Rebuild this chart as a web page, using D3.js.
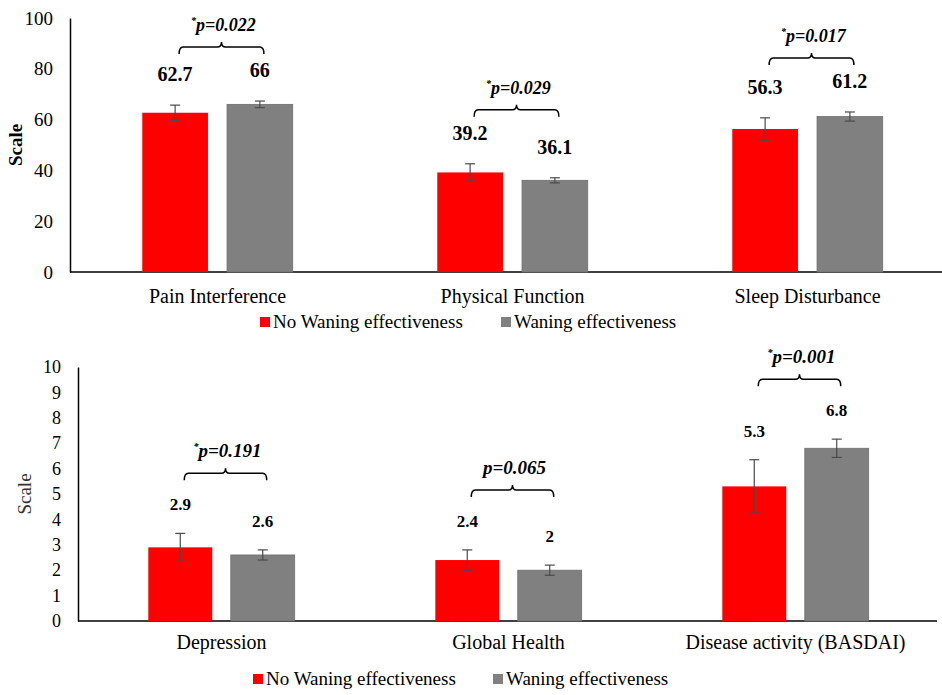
<!DOCTYPE html>
<html lang="en">
<head>
<meta charset="utf-8">
<title>Waning effectiveness</title>
<script src="https://d3js.org/d3.v7.min.js"></script>
<style>
  body { margin: 0; background: #fff; }
  svg text { font-family: "Liberation Serif", "Times New Roman", Times, "DejaVu Serif", serif; }
</style>
</head>
<body>
<script>
// series names
var seriesNames = ["No Waning effectiveness", "Waning effectiveness"];

// top panel (PROMIS scores)
var topCategories = ["Pain Interference", "Physical Function", "Sleep Disturbance"];
var topNoWaning = [62.7, 39.2, 56.3];
var topWaning = [66, 36.1, 61.2];
var topNoWaningErr = [3.0, 3.4, 4.4];
var topWaningErr = [1.3, 1.0, 1.8];
var topPValues = ["p=0.022", "p=0.029", "p=0.017"];
var topStars = [true, true, true];
var topTicks = [0, 20, 40, 60, 80, 100];

// bottom panel
var bottomCategories = ["Depression", "Global Health", "Disease activity (BASDAI)"];
var bottomNoWaning = [2.9, 2.4, 5.3];
var bottomWaning = [2.6, 2, 6.8];
var bottomNoWaningErr = [0.55, 0.4, 1.05];
var bottomWaningErr = [0.2, 0.2, 0.36];
var bottomPValues = ["p=0.191", "p=0.065", "p=0.001"];
var bottomStars = [true, false, true];
var bottomTicks = [0, 1, 2, 3, 4, 5, 6, 7, 8, 9, 10];

var colors = ["#ff0000", "#808080"];
var serif = "'Liberation Serif', 'Times New Roman', Times, 'DejaVu Serif', serif";

var w = 942, h = 695;
var svg = d3.select("body").append("svg")
    .attr("width", w)
    .attr("height", h)
    .attr("font-family", serif);

function drawPanel(p) {
    var g = svg.append("g");

    var x0 = d3.scaleBand()
        .domain(p.categories)
        .range([p.left, p.bandEnd])
        .paddingInner(0.49)
        .paddingOuter(0.245);

    var x1 = d3.scaleBand()
        .domain([0, 1])
        .range([0, x0.bandwidth()])
        .paddingInner(0.225);

    var y = d3.scaleLinear()
        .domain([0, p.ticks[p.ticks.length - 1]])
        .range([p.bottom, p.top]);

    var rows = p.categories.map(function(c, i) {
        return {
            cat: c,
            vals: [p.a[i], p.b[i]],
            errs: [p.aErr[i], p.bErr[i]],
            pv: p.pv[i],
            star: p.stars[i]
        };
    });

    // y axis: no tick marks, just labels
    var yAxis = d3.axisLeft(y)
        .tickValues(p.ticks)
        .tickSize(0)
        .tickPadding(p.tickPad)
        .tickFormat(d3.format("d"));
    var ya = g.append("g")
        .attr("transform", "translate(" + p.left + ",0)")
        .call(yAxis)
        .attr("font-family", serif);
    ya.select(".domain").attr("stroke", "#000").attr("stroke-width", 1.5);
    ya.selectAll("text")
        .attr("font-size", p.tickFont)
        .attr("fill", "#000");

    // x baseline
    g.append("line")
        .attr("x1", p.left).attr("x2", p.axisEnd)
        .attr("y1", y(0)).attr("y2", y(0))
        .attr("stroke", "#000").attr("stroke-width", 1.5);

    // category labels
    g.selectAll(".cat")
        .data(rows)
        .enter().append("text")
        .attr("x", function(d) { return x0(d.cat) + x0.bandwidth() / 2; })
        .attr("y", p.catY)
        .attr("text-anchor", "middle")
        .attr("font-size", 20)
        .text(function(d) { return d.cat; });

    // y title
    g.append("text")
        .attr("transform", "translate(" + p.titleX + "," + ((p.top + p.bottom) / 2) + ") rotate(-90)")
        .attr("text-anchor", "middle")
        .attr("font-size", 19)
        .attr("font-weight", p.titleBold ? "bold" : "normal")
        .attr("fill", p.titleBold ? "#000" : "#333")
        .text("Scale");

    var groups = g.selectAll(".grp")
        .data(rows)
        .enter().append("g")
        .attr("transform", function(d) { return "translate(" + x0(d.cat) + ",0)"; });

    // bars
    groups.selectAll("rect")
        .data(function(d) { return d.vals.map(function(v, k) { return { k: k, v: v, e: d.errs[k] }; }); })
        .enter().append("rect")
        .attr("x", function(d) { return x1(d.k); })
        .attr("y", function(d) { return y(d.v); })
        .attr("width", x1.bandwidth())
        .attr("height", function(d) { return y(0) - y(d.v); })
        .attr("fill", function(d) { return colors[d.k]; })
        .attr("stroke", function(d) { return d.k ? "#6e6e6e" : "none"; })
        .attr("stroke-width", 0.8);

    // error bars
    groups.each(function(d) {
        var gg = d3.select(this);
        d.vals.forEach(function(v, k) {
            var cx = x1(k) + x1.bandwidth() / 2;
            var t = y(v + d.errs[k]), b = y(v - d.errs[k]);
            gg.append("line").attr("x1", cx).attr("x2", cx).attr("y1", t).attr("y2", b)
                .attr("stroke", "#4a4a4a").attr("stroke-width", 1.2);
            [t, b].forEach(function(yy) {
                gg.append("line").attr("x1", cx - 5).attr("x2", cx + 5).attr("y1", yy).attr("y2", yy)
                    .attr("stroke", "#4a4a4a").attr("stroke-width", 1.2);
            });
            gg.append("text")
                .attr("x", cx)
                .attr("y", t - p.labelGap)
                .attr("text-anchor", "middle")
                .attr("font-size", p.valueFont)
                .attr("font-weight", "bold")
                .text(String(v));
        });

        // bracket with p value
        var xa = x1(0) + x1.bandwidth() / 2 + 4;
        var xb = x1(1) + x1.bandwidth() / 2 + 4;
        var labelTop = d3.min(d.vals, function(v, k) { return y(v + d.errs[k]); }) - p.labelGap;
        var by = labelTop - p.bracketGap;
        var mid = (xa + xb) / 2;
        var path = "M" + xa + "," + (by + 7) +
            " Q" + xa + "," + by + " " + (xa + 4) + "," + by +
            " L" + (mid - 4) + "," + by +
            " Q" + mid + "," + by + " " + mid + "," + (by - 5) +
            " Q" + mid + "," + by + " " + (mid + 4) + "," + by +
            " L" + (xb - 4) + "," + by +
            " Q" + xb + "," + by + " " + xb + "," + (by + 7);
        gg.append("path").attr("d", path)
            .attr("fill", "none").attr("stroke", "#000").attr("stroke-width", 1.5);

        var pt = gg.append("text")
            .attr("x", mid + 2)
            .attr("y", by - 16)
            .attr("text-anchor", "middle")
            .attr("font-size", p.pFont)
            .attr("font-weight", "bold")
            .attr("font-style", "italic");
        if (d.star) {
            pt.append("tspan").attr("font-size", 10).attr("dy", -7).text("*");
            pt.append("tspan").attr("dy", 7).text(d.pv);
        } else {
            pt.text(d.pv);
        }
    });

    // legend
    var lg = g.append("g");
    seriesNames.forEach(function(name, k) {
        var lx = p.legendX[k];
        lg.append("rect")
            .attr("x", lx).attr("y", p.legendY - 11)
            .attr("width", 10).attr("height", 10)
            .attr("fill", colors[k]);
        lg.append("text")
            .attr("x", lx + 13).attr("y", p.legendY)
            .attr("font-size", 19)
            .text(name);
    });
}

drawPanel({
    categories: topCategories, a: topNoWaning, b: topWaning,
    aErr: topNoWaningErr, bErr: topWaningErr, pv: topPValues, stars: topStars,
    ticks: topTicks,
    left: 70, bandEnd: 955, axisEnd: 942, top: 18, bottom: 272,
    tickPad: 17, tickFont: 19, titleX: 22, titleBold: true,
    catY: 303, valueFont: 20, labelGap: 24, bracketGap: 30, pFont: 18,
    legendX: [260, 501], legendY: 328
});

drawPanel({
    categories: bottomCategories, a: bottomNoWaning, b: bottomWaning,
    aErr: bottomNoWaningErr, bErr: bottomWaningErr, pv: bottomPValues, stars: bottomStars,
    ticks: bottomTicks,
    left: 78, bandEnd: 939, axisEnd: 937, top: 367, bottom: 621,
    tickPad: 17, tickFont: 18, titleX: 31, titleBold: false,
    catY: 649, valueFont: 17, labelGap: 23, bracketGap: 37, pFont: 19,
    legendX: [253, 493], legendY: 685
});
</script>
</body>
</html>
